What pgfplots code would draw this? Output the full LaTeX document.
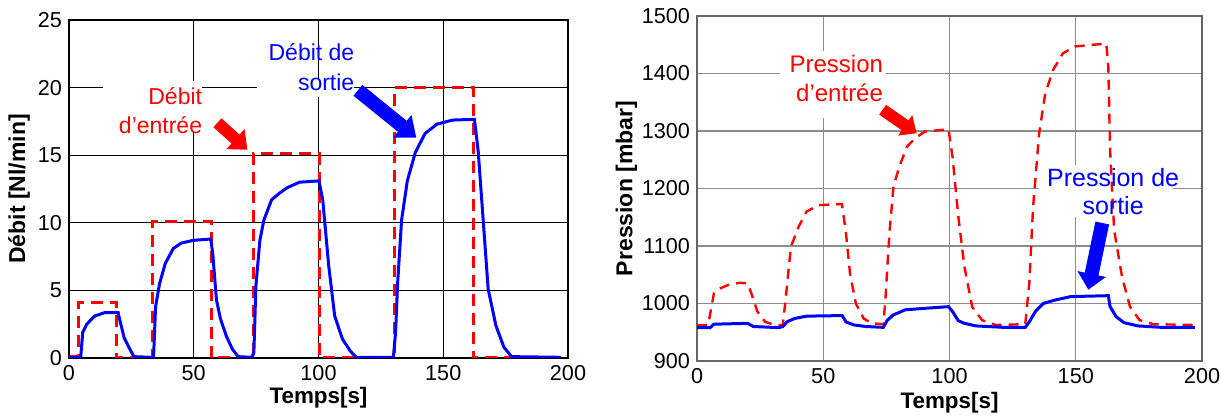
\documentclass[border=0pt]{standalone}
\usepackage{fontspec}
\setmainfont{Liberation Sans}
\usepackage{pgfplots}
\pgfplotsset{compat=1.18}
\usetikzlibrary{arrows.meta}
\definecolor{pblue}{RGB}{0,0,255}
\definecolor{pred}{RGB}{255,0,0}
\begin{document}
\begin{tikzpicture}
\useasboundingbox (0,0) rectangle (610pt,208pt);
\pgfplotsset{
  common/.style={
    scale only axis, anchor=south west,
    xmin=0, xmax=200, xtick={0,50,100,150,200},
    grid=major, major tick length=0pt,
    ticklabel style={font=\fontsize{10.8}{12}\selectfont},
    /pgf/number format/assume math mode=true,
    /pgf/number format/1000 sep={},
    xlabel style={font=\bfseries\fontsize{11.2}{13}\selectfont},
    ylabel style={font=\bfseries\fontsize{11.5}{13}\selectfont},
    xlabel={Temps[s]},
  }
}
% ---------------- left ----------------
\begin{axis}[common,
  at={(34.5pt,29pt)}, width=249.5pt, height=169pt,
  ymin=0, ymax=25, ytick={0,5,10,15,20,25},
  grid style={black, line width=0.5pt},
  axis line style={black, line width=0.6pt},
  ylabel={Débit [Nl/min]},
  ylabel style={at={(axis description cs:-0.1,0.5)}, anchor=center},
  xlabel style={at={(axis description cs:0.5,-0.118)}, anchor=center},
]
\fill[white] (axis cs:13.5,16.8) rectangle (axis cs:53.5,20.5);
\fill[white] (axis cs:75.5,19.3) rectangle (axis cs:114.2,20.6);
\addplot[pred, line width=1.5pt, dash pattern=on 6pt off 3.5pt] coordinates {
(0,0.1)(3.9,0.1)(3.9,4.1)(19.2,4.1)(19.2,0)(33.6,0)(33.6,10.1)(57.1,10.1)(57.1,0)(73.8,0)(73.8,15.1)(100.2,15.1)(100.2,0)(130.4,0)(130.4,20)(162.1,20)(162.1,0)(197,0)
};
\addplot[pblue, line width=1.5pt] coordinates {
(0,0.05)(4.7,0.05)(5.5,1.9)(7.1,2.5)(10.3,3.1)(14.2,3.35)(19.7,3.35)(20.5,2.7)(22.1,1.5)(23.7,0.9)(26,0.1)(33,0.05)
(33.9,0.1)(34.7,3.8)(36.3,5.5)(38.6,7.0)(41.8,8.1)(45,8.5)(49.7,8.7)(56.8,8.8)(57.6,7.75)(59.1,4.3)(60.7,2.9)(63.1,1.6)(65.5,0.65)(67.8,0.1)(73.3,0.05)
(74.1,0.4)(74.9,5.3)(76.5,8.7)(78.1,10.2)(81.2,11.7)(84.4,12.2)(87.5,12.6)(92.3,13.0)(100.2,13.1)(101.7,11.7)(104.1,6.8)(106.5,3.1)(109.6,1.4)(112.8,0.5)(115.1,0.05)(130,0.05)
(130.9,1.9)(131.7,5.5)(133.3,10.2)(135.6,13.1)(138.8,15.2)(142.7,16.6)(147.5,17.3)(153.8,17.6)(162.5,17.65)(164.0,15.3)(166.4,9.2)(168,5.1)(171.1,2.4)(174.3,0.8)(177.4,0.1)(197.2,0.05)
};
\node[pred, font=\fontsize{11.5}{14.5}\selectfont, align=right, anchor=east, inner sep=0pt] at (axis cs:53.5,18.3) {Débit\\d’entrée};
\node[pblue, font=\fontsize{11.5}{15}\selectfont, align=right, anchor=east, inner sep=0pt] at (axis cs:114.5,21.5) {Débit de\\sortie};
\draw[pred, line width=6pt, -{Triangle[width=13pt,length=8pt]}] (axis cs:59.5,17.4) -- (axis cs:71.5,15.4);
\draw[pblue, line width=7pt, -{Triangle[width=14pt,length=9pt]}] (axis cs:115.8,19.8) -- (axis cs:139.2,16.3);
\end{axis}
% ---------------- right ----------------
\begin{axis}[common,
  at={(348.5pt,27.5pt)}, width=252.5pt, height=172.5pt,
  ymin=900, ymax=1500, ytick={900,1000,...,1500},
  grid style={black!45, line width=0.6pt},
  axis line style={black!60, line width=0.6pt},
  ylabel={Pression [mbar]},
  ylabel style={at={(axis description cs:-0.14,0.5)}, anchor=center},
  xlabel style={at={(axis description cs:0.5,-0.12)}, anchor=center},
]
\fill[white] (axis cs:33,1322) rectangle (axis cs:75,1440);
\fill[white] (axis cs:135.5,1150) rectangle (axis cs:188.5,1240);
\addplot[pred, line width=1.2pt, dash pattern=on 5pt off 3.5pt] coordinates {
(0,962.6)(4.4,962.6)(6.7,1017.7)(9.1,1026)(12.2,1032)(16.9,1036)(20,1035)(21.5,1018)(23.9,986)(27,968)(30.9,962.6)(34,962.6)
(35.6,1029)(37.2,1099)(40.3,1134)(43.4,1160)(48.1,1171)(57.4,1173)(59,1122)(60.6,1052)(62.9,1000)(66,974)(69.2,965.5)(73.8,964)
(74.6,1006)(76.2,1122)(77.8,1203)(80.1,1238)(83.2,1273)(86.3,1287)(90.2,1299)(99.6,1303)(101.2,1255)(103.5,1151)(105.9,1064)(109,994)(112.9,971)(118.3,962.6)(130,964)
(131.6,1035)(133.1,1168)(135.5,1296)(137.9,1365)(141,1406)(144.9,1435)(149.6,1447)(162.1,1452)(162.9,1412)(163.6,1267)(165.2,1128)(168.3,1047)(171.5,994)(175.3,971)(180.8,964)(198,962.6)
};
\addplot[pblue, line width=1.5pt] coordinates {
(0,958)(5.2,958)(6.7,964)(20,965.5)(22.3,960)(32.5,958)(34,960)(35.6,968)(38.7,974)(43.4,978)(57.5,979)(59,968)(62.2,962.6)(66.8,960)(73.8,958.5)
(75.4,971)(77.7,980)(82.4,989)(90.2,991.6)(99.6,994.5)(101.2,986)(103.5,970)(105.9,965.5)(110.5,961)(121.5,958.5)(130,958.5)
(131.6,968)(134,986)(137.1,1000)(141.8,1006)(148,1012)(162.9,1013.6)(163.6,994.5)(166,977)(169.1,966.7)(174.6,961)(184,958.5)(197.2,958.5)
};
\node[pred, font=\fontsize{12}{14.5}\selectfont, align=right, anchor=east, inner sep=0pt] at (axis cs:73.8,1392) {Pression\\d’entrée};
\node[pblue, font=\fontsize{12.5}{14}\selectfont, align=center, anchor=center, inner sep=0pt] at (axis cs:164.8,1195) {Pression de\\sortie};
\draw[pred, line width=6pt, -{Triangle[width=12pt,length=7pt]}] (axis cs:73.5,1337) -- (axis cs:87,1296);
\draw[pblue, line width=7pt, -{Triangle[width=14pt,length=8pt]}] (axis cs:160.5,1140) -- (axis cs:155,1024);
\end{axis}
\end{tikzpicture}
\end{document}
